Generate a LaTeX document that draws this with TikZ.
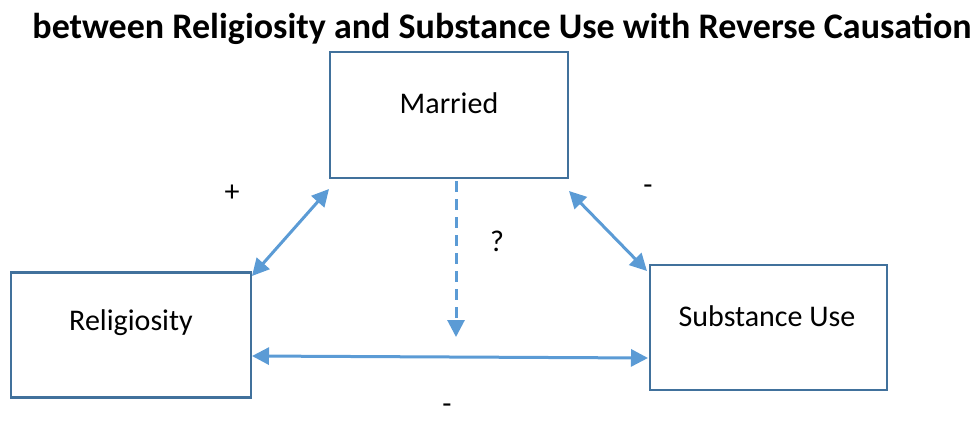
\documentclass[tikz,border=0pt]{standalone}
\usepackage{fontspec}
\setmainfont{Carlito}
\usetikzlibrary{arrows.meta,calc}
\definecolor{boxc}{HTML}{41719C}
\definecolor{arrc}{HTML}{5B9BD5}
\begin{document}
\begin{tikzpicture}[x=1pt,y=-1pt,
  box/.style={draw=boxc,line width=2.2pt,fill=white,minimum width=#1,inner sep=0pt},
  conn/.style={draw=arrc,line width=3pt,{Triangle[length=17pt,width=17pt]}-{Triangle[length=17pt,width=17pt]}},
  oneway/.style={draw=arrc,line width=3pt,dash pattern=on 11pt off 7pt,-{Triangle[length=17pt,width=17pt]}},
  lbl/.style={font=\fontsize{30}{34}\selectfont,inner sep=0pt}]
\useasboundingbox (0,0) rectangle (975,444);
\node[font=\bfseries\fontsize{36}{40}\selectfont,inner sep=0pt,anchor=base] (title) at (502,39) {between Religiosity and Substance Use with Reverse Causation};
\node[box=238pt,minimum height=126pt] (m) at (449,115) {};
\node[lbl] (mt) at (449,103) {Married};
\node[box=240pt,minimum height=125pt] (r) at (131,335) {};
\node[lbl] (rt) at (131,323) {Religiosity};
\node[box=237pt,minimum height=125pt] (s) at (768.5,327.5) {};
\node[lbl] (st) at (767,316) {Substance Use};
\coordinate (m1) at (329,189);
\coordinate (r1) at (252,276);
\coordinate (m2) at (569,191);
\coordinate (s1) at (647,271);
\coordinate (m3) at (456,181);
\coordinate (d3) at (456,337);
\coordinate (r2) at (252,356);
\coordinate (s2) at (648,358);
\draw[conn] (r1) -- (m1);
\draw[conn] (m2) -- (s1);
\draw[oneway] (m3) -- (d3);
\draw[conn] (r2) -- (s2);
\node[lbl] (plus) at (232,193) {+};
\node[lbl] (minus1) at (648,190) {-};
\node[lbl] (q) at (497,241) {?};
\node[lbl] (minus2) at (447,409) {-};
\end{tikzpicture}
\end{document}
